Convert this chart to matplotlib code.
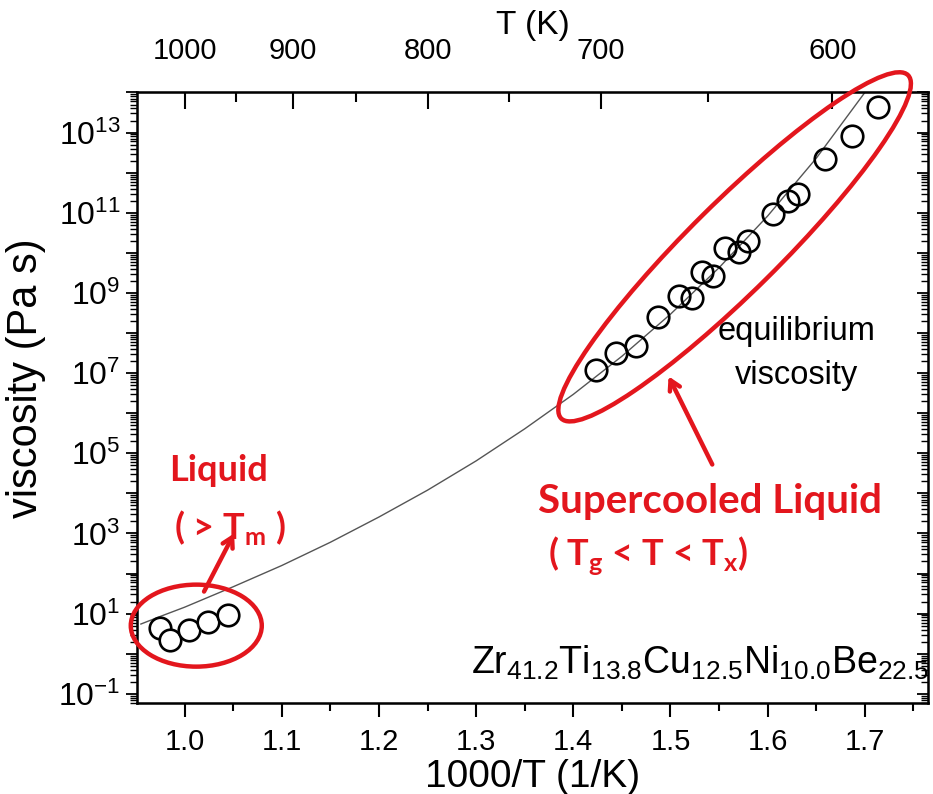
import numpy as np
import matplotlib
matplotlib.use('Agg')
import matplotlib.pyplot as plt
from matplotlib.patches import Ellipse
import matplotlib.transforms as mtransforms
from matplotlib.ticker import FixedLocator, FuncFormatter, NullFormatter

plt.rcParams['font.family'] = ['Liberation Sans', 'DejaVu Sans']
plt.rcParams['mathtext.fontset'] = 'custom'
plt.rcParams['mathtext.rm'] = 'Liberation Sans'
plt.rcParams['mathtext.it'] = 'Liberation Sans'
plt.rcParams['mathtext.bf'] = 'Lato:bold'

# ---------------- data ----------------
liquid_x = [0.975, 0.985, 1.005, 1.024, 1.045]
liquid_log_eta = [0.63, 0.33, 0.58, 0.79, 0.96]

scl_x = [1.423, 1.444, 1.464, 1.487, 1.509, 1.522, 1.532, 1.544, 1.556,
         1.570, 1.580, 1.606, 1.621, 1.631, 1.659, 1.687, 1.714]
scl_log_eta = [7.07, 7.50, 7.67, 8.40, 8.92, 8.88, 9.53, 9.42, 10.13,
               10.02, 10.29, 10.96, 11.29, 11.48, 12.35, 12.92, 13.64]

fit_x = [0.955, 0.975, 1.00, 1.05, 1.10, 1.15, 1.20, 1.25, 1.30, 1.35,
         1.40, 1.45, 1.50, 1.55, 1.60, 1.65, 1.70]
fit_log_eta = [0.74, 0.93, 1.16, 1.67, 2.20, 2.78, 3.41, 4.08, 4.81, 5.61,
               6.47, 7.42, 8.47, 9.63, 10.92, 12.36, 14.00]

x_ticks = [1.0, 1.1, 1.2, 1.3, 1.4, 1.5, 1.6, 1.7]
x_minor = [1.05, 1.15, 1.25, 1.35, 1.45, 1.55, 1.65, 1.75]
top_T_major = [1000, 900, 800, 700, 600]
top_T_minor = [950, 850, 750, 650]
y_exponents = list(range(-1, 15))

RED = '#E3161D'

fig = plt.figure(figsize=(9.33, 7.94), dpi=100)
ax = fig.add_axes([137/933, 1 - 703/794, (928 - 137)/933, (703 - 92.5)/794])

ax.set_yscale('log')
ax.set_xlim(0.951, 1.765)
ax.set_ylim(10**-1.23, 10**14.0)

# fit curve
ax.plot(fit_x, 10**np.array(fit_log_eta), color='#555555', lw=1.0, zorder=2)
# data points
ax.plot(liquid_x, 10**np.array(liquid_log_eta), 'o', ms=15.5, mfc='white',
        mec='black', mew=1.9, zorder=3)
ax.plot(scl_x, 10**np.array(scl_log_eta), 'o', ms=15.5, mfc='none',
        mec='black', mew=1.9, zorder=3)

# ticks
ax.xaxis.set_major_locator(FixedLocator(x_ticks))
ax.xaxis.set_minor_locator(FixedLocator(x_minor))
ax.xaxis.set_major_formatter(FuncFormatter(lambda v, p: f'{v:.1f}'))
ax.yaxis.set_major_locator(FixedLocator([10.0**e for e in y_exponents]))
minor = [m * 10.0**e for e in range(-2, 15) for m in range(2, 10)]
ax.yaxis.set_minor_locator(FixedLocator(minor))
ax.yaxis.set_minor_formatter(NullFormatter())


def yfmt(v, p):
    e = int(round(np.log10(v)))
    return r'$\mathregular{10^{%d}}$' % e if e % 2 != 0 else ''


ax.yaxis.set_major_formatter(FuncFormatter(yfmt))
ax.tick_params(axis='x', which='major', direction='out', length=10, width=1.5,
               labelsize=21, pad=8)
ax.tick_params(axis='x', which='minor', direction='out', length=6, width=1.5)
ax.tick_params(axis='y', which='major', direction='out', length=8, width=1.3,
               labelsize=23, pad=4)
ax.tick_params(axis='y', which='minor', direction='out', length=5, width=1.0)
for s in ax.spines.values():
    s.set_linewidth(1.8)

# right axis ticks (inward)
axr = ax.twinx()
axr.set_yscale('log')
axr.set_ylim(ax.get_ylim())
axr.yaxis.set_major_locator(FixedLocator([10.0**e for e in y_exponents]))
axr.yaxis.set_minor_locator(FixedLocator(minor))
axr.yaxis.set_major_formatter(NullFormatter())
axr.yaxis.set_minor_formatter(NullFormatter())
axr.tick_params(axis='y', which='major', direction='in', length=8, width=1.3)
axr.tick_params(axis='y', which='minor', direction='in', length=5, width=1.0)

# top axis in T (K)
sec = ax.secondary_xaxis('top', functions=(lambda x: 1000 / np.asarray(x, float),
                                           lambda t: 1000 / np.asarray(t, float)))
sec.xaxis.set_major_locator(FixedLocator(top_T_major))
sec.xaxis.set_minor_locator(FixedLocator(top_T_minor))
sec.xaxis.set_major_formatter(FuncFormatter(lambda v, p: f'{v:.0f}'))
sec.tick_params(which='major', direction='in', length=12, width=1.5,
                labelsize=21, pad=20)
sec.tick_params(which='minor', direction='in', length=7, width=1.5)
sec.set_xlabel('T (K)', fontsize=24, labelpad=2)

ax.set_xlabel('1000/T (1/K)', fontsize=28, labelpad=2)
ax.set_ylabel('viscosity (Pa s)', fontsize=30, labelpad=4)
ax.yaxis.set_label_coords(-0.115, 0.532)

# black annotations
ax.text(1.630, 10**8.03, 'equilibrium', fontsize=23.5, ha='center', va='center')
ax.text(1.630, 10**6.95, 'viscosity', fontsize=23.5, ha='center', va='center')
ax.text(1.531, 10**-0.49,
        r'Zr$_{41.2}$Ti$_{13.8}$Cu$_{12.5}$Ni$_{10.0}$Be$_{22.5}$',
        fontsize=27, ha='center', va='baseline')

# red ellipses (anchored at data points, size in inches)
def add_ellipse(cx, cy, w, h, ang):
    tr = fig.dpi_scale_trans + mtransforms.ScaledTranslation(cx, cy, ax.transData)
    e = Ellipse((0, 0), w, h, angle=ang, transform=tr, fill=False,
                edgecolor=RED, lw=3.2, zorder=5, clip_on=False)
    fig.add_artist(e)


add_ellipse(1.012, 10**0.70, 1.31, 0.82, 0)
add_ellipse(1.566, 10**10.15, 4.88, 0.90, 44.7)

# red labels
rk = dict(color=RED, fontweight='bold', family='Lato', ha='center', va='center')
ax.text(1.035, 10**4.58, 'Liquid', fontsize=26, **rk)
ax.text(1.047, 10**3.15, r'( > T$_\mathbf{m}$ )', fontsize=26, **rk)
ax.text(1.541, 10**3.80, 'Supercooled Liquid', fontsize=29, **rk)
ax.text(1.477, 10**2.45, r'( T$_\mathbf{g}$ < T < T$_\mathbf{x}$)', fontsize=26, **rk)

arrow = dict(arrowstyle='->,head_length=0.7,head_width=0.4', color=RED, lw=3.2,
             shrinkA=0, shrinkB=0)
ax.annotate('', xy=(1.051, 10**3.00), xytext=(1.020, 10**1.55), arrowprops=arrow)
ax.annotate('', xy=(1.498, 10**6.92), xytext=(1.543, 10**4.72), arrowprops=arrow)

fig.savefig('out.png', dpi=100)
